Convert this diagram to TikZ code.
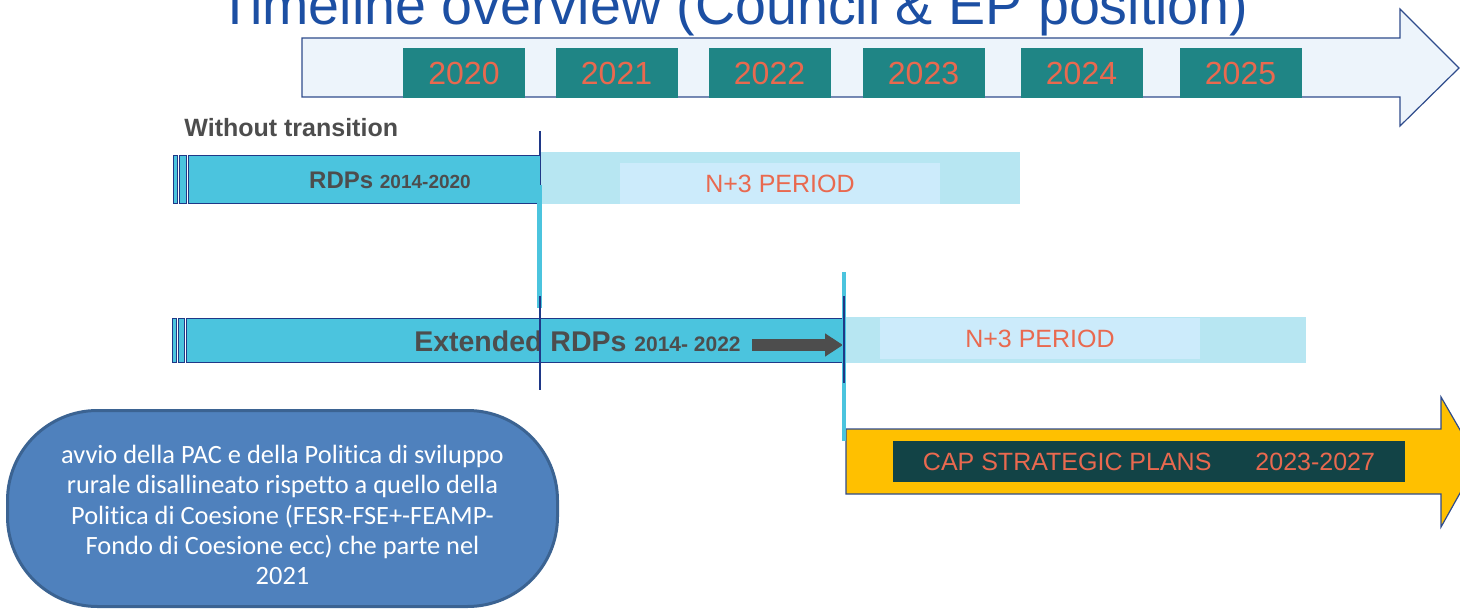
\documentclass[tikz,border=0pt]{standalone}
\usepackage{fontspec}
\setmainfont{Liberation Sans}
\newfontfamily\notefont[Ligatures=NoCommon]{Carlito}
\usepackage{tikz}
\usetikzlibrary{arrows.meta}
\definecolor{titleblue}{HTML}{1C4FA3}
\definecolor{arrowedge}{HTML}{2F4C8C}
\definecolor{arrowfill}{HTML}{EDF4FB}
\definecolor{yearteal}{HTML}{1F8585}
\definecolor{salmon}{HTML}{E9694F}
\definecolor{barcyan}{HTML}{4BC4DE}
\definecolor{navy}{HTML}{1F3887}
\definecolor{bandout}{HTML}{B7E6F2}
\definecolor{bandin}{HTML}{CCEBFB}
\definecolor{textgray}{HTML}{4D4D4D}
\definecolor{capyellow}{HTML}{FFC000}
\definecolor{capdark}{HTML}{124346}
\definecolor{notefill}{HTML}{4F81BD}
\definecolor{noteedge}{HTML}{3B6392}
\tikzset{
	timearrow/.style={draw=arrowedge, fill=arrowfill, line width=0.6pt},
	caparrow/.style={draw=arrowedge, fill=capyellow, line width=0.6pt},
	yearbox/.style={rectangle, fill=yearteal, text=salmon, minimum width=61pt, minimum height=25pt, inner sep=0pt, font=\fontsize{16}{19}\selectfont},
	bandbox/.style={rectangle, fill=bandin, text=salmon, minimum width=160pt, minimum height=20.5pt, inner sep=0pt, font=\fontsize{12.5}{15}\selectfont},
	capbox/.style={rectangle, fill=capdark, text=salmon, minimum width=256pt, minimum height=20.5pt, inner sep=0pt, font=\fontsize{12.5}{15}\selectfont},
	rdpbar/.style={draw=navy, fill=barcyan, line width=0.4pt},
	n3band/.style={fill=bandout},
	rdptext/.style={text=textgray, font=\bfseries, inner sep=0pt},
	navyline/.style={draw=navy, line width=0.7pt},
	cyanline/.style={draw=barcyan, line width=2.2pt},
	grayarrow/.style={draw=textgray, line width=6pt, -{Triangle[length=9pt,width=11pt]}},
	notebox/.style={rectangle, rounded corners=45pt, draw=noteedge, fill=notefill, line width=1.5pt, minimum width=275pt, minimum height=98pt},
}

\begin{document}
\begin{tikzpicture}[x=0.5pt, y=-0.5pt]
\useasboundingbox (0,0) rectangle (1460,609);
\clip (0,0) rectangle (1460,609);
\node (title) [anchor=base west, text=titleblue, inner sep=0pt, font=\fontsize{27.8}{33}\selectfont] at (218,25) {Timeline overview (Council \& EP position)};
% years
\draw [timearrow] (302,38) -- (1400,38) -- (1400,9) -- (1459,68) -- (1400,126) -- (1400,97) -- (302,97) -- cycle;
\foreach \x/\yr in {464/2020,616.5/2021,769.5/2022,923.5/2023,1081.5/2024,1240.5/2025}
\node (y\yr) [yearbox] at (\x,73) {\yr};
\node (without) [rdptext, anchor=base west, font=\bfseries\fontsize{12.5}{15}\selectfont] at (184,137) {Without transition};
% without transition
\fill [n3band] (541,152) rectangle (1020,204);
\node (n3a) [bandbox] at (780,183.5) {N+3 PERIOD};
\foreach \a/\b in {173/177,179/186,188/540}
\draw [rdpbar] (\a,155) rectangle (\b,203);
\node (rdp) [rdptext, anchor=base] at (390,189) {\fontsize{12}{14}\selectfont RDPs \fontsize{9.5}{11}\selectfont 2014-2020};
% extended
\fill [n3band] (846,317) rectangle (1306,363);
\node (n3b) [bandbox] at (1040,338.5) {N+3 PERIOD};
\foreach \a/\b in {172/176,178/184,186/843}
\draw [rdpbar] (\a,318) rectangle (\b,362);
\node (ext) [rdptext, anchor=base] at (577.5,351) {\fontsize{14.25}{17}\selectfont Extended RDPs \fontsize{10.5}{12}\selectfont 2014- 2022};
\coordinate (g0) at (752,345);
\coordinate (g1) at (843,345);
\draw [grayarrow] (g0) -- (g1);
% cap plans
\draw [caparrow] (846,429) -- (1441,429) -- (1441,397) -- (1478,461) -- (1441,527) -- (1441,494) -- (846,494) -- cycle;
\node (cap) [capbox] at (1149,461.5) {CAP STRATEGIC PLANS\hspace{22pt}2023-2027};
% markers
\coordinate (a0) at (540,131);
\coordinate (a1) at (540,155);
\coordinate (a2) at (540,296);
\coordinate (a3) at (540,390);
\coordinate (b0) at (844,296);
\coordinate (b1) at (844,383);
\draw [cyanline] (539.5,185) -- (539.5,308);
\draw [cyanline] (844,272) -- (844,441);
\draw [navyline] (a0) -- (a1);
\draw [navyline] (a2) -- (a3);
\draw [navyline] (b0) -- (b1);
% note
\node (note) [notebox] at (282.5,508.5) {};
\node (notetext) [align=center, text=white, inner sep=0pt, font=\notefont\fontsize{13.2}{15.2}\selectfont] at (note.center) [yshift=-3.3pt] {avvio della PAC e della Politica di sviluppo\\rurale disallineato rispetto a quello della\\Politica di Coesione (FESR-FSE+-FEAMP-\\Fondo di Coesione ecc) che parte nel\\2021};
\end{tikzpicture}
\end{document}
